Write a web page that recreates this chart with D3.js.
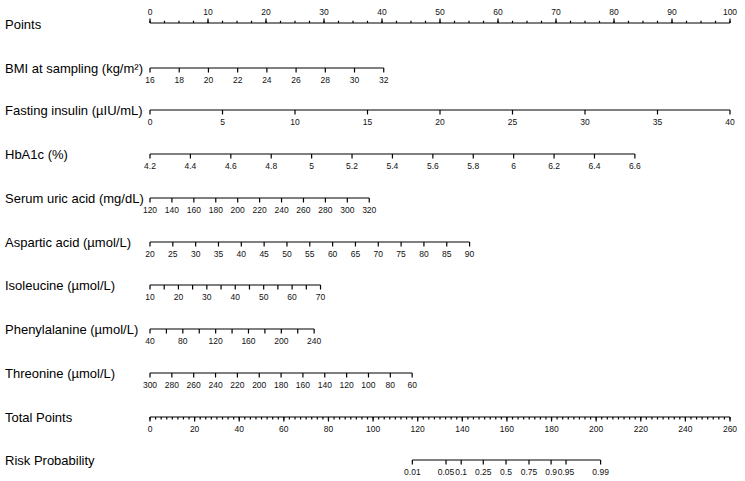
<!DOCTYPE html>
<html><head><meta charset="utf-8">
<script src="https://cdn.jsdelivr.net/npm/d3@7"></script>
<style>html,body{margin:0;padding:0;background:#fff;} svg{display:block;font-family:"Liberation Sans",Arial,sans-serif;}</style>
</head><body>
<script>
// ---- data ----
const rowLabels = ["Points","BMI at sampling (kg/m\u00B2)","Fasting insulin (\u00B5IU/mL)","HbA1c (%)","Serum uric acid (mg/dL)","Aspartic acid (\u00B5mol/L)","Isoleucine (\u00B5mol/L)","Phenylalanine (\u00B5mol/L)","Threonine (\u00B5mol/L)","Total Points","Risk Probability"];
const pointsTicks = [0,10,20,30,40,50,60,70,80,90,100];
const bmiTicks = [16,18,20,22,24,26,28,30,32];
const bmiPoints = [0,40.3];
const insulinTicks = [0,5,10,15,20,25,30,35,40];
const insulinPoints = [0,100];
const hba1cTicks = [4.2,4.4,4.6,4.8,5,5.2,5.4,5.6,5.8,6,6.2,6.4,6.6];
const hba1cPoints = [0,83.6];
const uricTicks = [120,140,160,180,200,220,240,260,280,300,320];
const uricPoints = [0,37.8];
const aspTicks = [20,25,30,35,40,45,50,55,60,65,70,75,80,85,90];
const aspPoints = [0,55.1];
const ileTicks = [10,15,20,25,30,35,40,45,50,55,60,65,70];
const ileLabels = [10,20,30,40,50,60,70];
const ilePoints = [0,29.4];
const pheTicks = [40,60,80,100,120,140,160,180,200,220,240];
const pheLabels = [40,80,120,160,200,240];
const phePoints = [0,28.3];
const thrTicks = [300,280,260,240,220,200,180,160,140,120,100,80,60];
const thrPoints = [0,45.2];
const totalTicks = [0,20,40,60,80,100,120,140,160,180,200,220,240,260];
const riskLabels = ["0.01","0.05","0.1","0.25","0.5","0.75","0.9","0.95","0.99"];
const riskTotalPoints = [117.6,132.7,139.5,149.4,159.6,169.9,179.8,186.5,202.0];

// ---- layout ----
const W=745,H=481;
const rowY = [23,68,110,154,198,242,285,329,373,417,460];
const svg = d3.select("body").append("svg").attr("width",W).attr("height",H);
const ptsX = d3.scaleLinear().domain([0,100]).range([150,730]);
const totX = d3.scaleLinear().domain([0,260]).range([150,730]);
const tickFont = "8.5px", labFont = "13px", tickCol="#111", sw=1.2;

// row labels
svg.selectAll("text.rl").data(rowLabels).join("text").attr("class","rl")
  .attr("x",5).attr("y",(d,i)=>rowY[i]+ (i===0?6:4.5))
  .attr("font-size",labFont).attr("fill","#000").text(d=>d);

// Points axis (ticks up, labels above)
function topAxis(scale, y, majors, minorStep, maxV){
  const g = svg.append("g");
  g.append("line").attr("x1",scale(majors[0])).attr("x2",scale(maxV)).attr("y1",y).attr("y2",y).attr("stroke","#000").attr("stroke-width",sw);
  g.selectAll("line.mn").data(d3.range(0,maxV+0.001,minorStep)).join("line")
   .attr("x1",d=>scale(d)).attr("x2",d=>scale(d)).attr("y1",y).attr("y2",y-2.2).attr("stroke","#000").attr("stroke-width",sw);
  g.selectAll("line.mj").data(majors).join("line")
   .attr("x1",d=>scale(d)).attr("x2",d=>scale(d)).attr("y1",y).attr("y2",y-4.5).attr("stroke","#000").attr("stroke-width",sw);
  g.selectAll("text").data(majors).join("text").attr("x",d=>scale(d)).attr("y",y-8)
   .attr("text-anchor","middle").attr("font-size",tickFont).attr("fill",tickCol).text(d=>d);
}
topAxis(ptsX, rowY[0], pointsTicks, 2.5, 100);

// variable axes (line on top, ticks down, labels below)
function varAxis(y, ticks, labels, domain, pts, fmt){
  const sc = d3.scaleLinear().domain(domain).range([ptsX(pts[0]), ptsX(pts[1])]);
  const g = svg.append("g");
  g.append("line").attr("x1",sc(domain[0])).attr("x2",sc(domain[1])).attr("y1",y).attr("y2",y).attr("stroke","#000").attr("stroke-width",sw);
  g.selectAll("line.t").data(ticks).join("line")
   .attr("x1",d=>sc(d)).attr("x2",d=>sc(d)).attr("y1",y).attr("y2",y+4.5).attr("stroke","#000").attr("stroke-width",sw);
  g.selectAll("text").data(labels).join("text").attr("x",d=>sc(d)).attr("y",y+14.5)
   .attr("text-anchor","middle").attr("font-size",tickFont).attr("fill",tickCol).text(d=>fmt?fmt(d):d);
}
varAxis(rowY[1], bmiTicks, bmiTicks, [16,32], bmiPoints);
varAxis(rowY[2], insulinTicks, insulinTicks, [0,40], insulinPoints);
varAxis(rowY[3], hba1cTicks, hba1cTicks, [4.2,6.6], hba1cPoints, d=>String(+d.toFixed(1)));
varAxis(rowY[4], uricTicks, uricTicks, [120,320], uricPoints);
varAxis(rowY[5], aspTicks, aspTicks, [20,90], aspPoints);
varAxis(rowY[6], ileTicks, ileLabels, [10,70], ilePoints);
varAxis(rowY[7], pheTicks, pheLabels, [40,240], phePoints);
varAxis(rowY[8], thrTicks, thrTicks, [300,60], thrPoints);

// Total points axis (ticks down)
(function(){
  const y=rowY[9], g=svg.append("g");
  g.append("line").attr("x1",totX(0)).attr("x2",totX(260)).attr("y1",y).attr("y2",y).attr("stroke","#000").attr("stroke-width",sw);
  g.selectAll("line.mn").data(d3.range(0,260.001,2.5)).join("line")
   .attr("x1",d=>totX(d)).attr("x2",d=>totX(d)).attr("y1",y).attr("y2",y+2.5).attr("stroke","#000").attr("stroke-width",sw);
  g.selectAll("line.mj").data(totalTicks).join("line")
   .attr("x1",d=>totX(d)).attr("x2",d=>totX(d)).attr("y1",y).attr("y2",y+4.5).attr("stroke","#000").attr("stroke-width",sw);
  g.selectAll("text").data(totalTicks).join("text").attr("x",d=>totX(d)).attr("y",y+14.5)
   .attr("text-anchor","middle").attr("font-size",tickFont).attr("fill",tickCol).text(d=>d);
})();

// Risk probability axis
(function(){
  const y=rowY[10], g=svg.append("g");
  const xs = riskTotalPoints.map(d=>totX(d));
  g.append("line").attr("x1",xs[0]).attr("x2",xs[xs.length-1]).attr("y1",y).attr("y2",y).attr("stroke","#000").attr("stroke-width",sw);
  g.selectAll("line.t").data(riskTotalPoints).join("line")
   .attr("x1",d=>totX(d)).attr("x2",d=>totX(d)).attr("y1",y).attr("y2",y+4.5).attr("stroke","#000").attr("stroke-width",sw);
  g.selectAll("text").data(riskLabels).join("text").attr("x",(d,i)=>xs[i]).attr("y",y+14.5)
   .attr("text-anchor","middle").attr("font-size",tickFont).attr("fill",tickCol).text(d=>d);
})();
</script>
</body></html>
